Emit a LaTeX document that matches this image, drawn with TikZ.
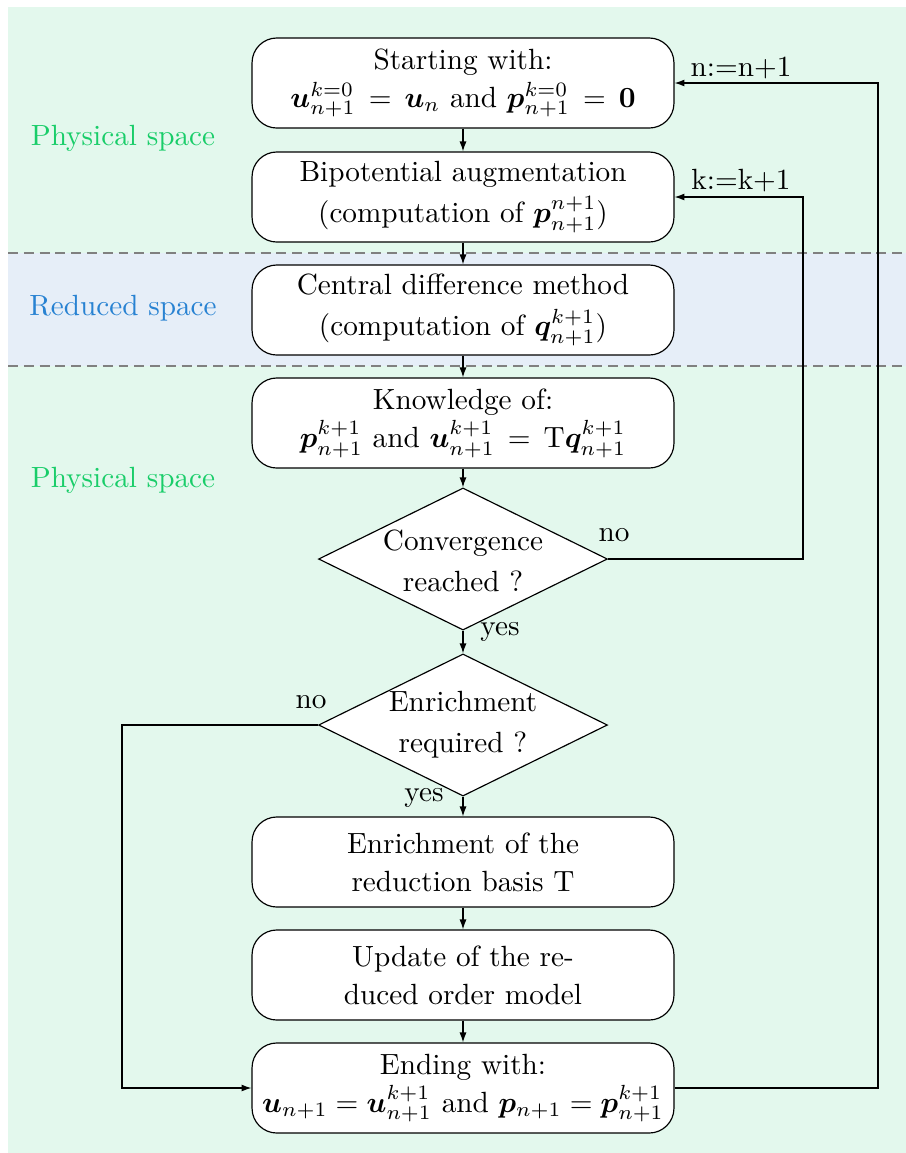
\documentclass[tikz,border=0pt]{standalone}
\usepackage{amsmath,bm}
\usetikzlibrary{arrows.meta,shapes.geometric}
\definecolor{bggreen}{RGB}{227,248,237}
\definecolor{bgblue}{RGB}{230,238,248}
\definecolor{physgreen}{RGB}{25,205,105}
\definecolor{redblue}{RGB}{40,130,210}
\begin{document}
\begin{tikzpicture}[x=0.342pt,y=-0.342pt,
  box/.style={draw, fill=white, rounded corners=8.5pt, minimum width=144.3pt, minimum height=30.8pt, align=center, inner sep=0pt},
  dia/.style={draw, fill=white, diamond, minimum width=98.8pt, minimum height=48.6pt, inner sep=0pt},
  arr/.style={-{Latex[length=3.4pt,width=2.4pt]}},
  sep/.style={draw=gray, line width=0.7pt, dash pattern=on 3.4pt off 2pt},
  lbl/.style={inner sep=0pt}]
\useasboundingbox (0,0) rectangle (906,1153);
\fill[bggreen] (8,7) rectangle (906,1153);
\fill[bgblue] (8,253) rectangle (906,366);
\draw[sep] (8,253) -- (906,253);
\draw[sep] (8,366) -- (906,366);

\node[lbl, text=physgreen] (ps1) at (123,138) {Physical space};
\node[lbl, text=redblue] (rs) at (123,308) {Reduced space};
\node[lbl, text=physgreen] (ps2) at (123,480) {Physical space};

\node[box] (b1) at (463,83) {Starting with:\\[1pt] $\bm{u}_{n+1}^{k=0}\,=\,\bm{u}_n$ and $\bm{p}_{n+1}^{k=0}\,=\,\bm{0}$};
\node[box] (b2) at (463,197) {Bipotential augmentation\\[2pt](computation of $\bm{p}_{n+1}^{n+1}$)};
\node[box] (b3) at (463,310) {Central difference method\\[2pt](computation of $\bm{q}_{n+1}^{k+1}$)};
\node[box] (b4) at (463,423) {Knowledge of:\\[1pt] $\bm{p}_{n+1}^{k+1}$ and $\bm{u}_{n+1}^{k+1}\,=\,\mathrm{T}\bm{q}_{n+1}^{k+1}$};
\node[dia] (d1) at (463,559) {};
\node[lbl, align=center] (d1t) at (463,561) {Convergence\\[2pt]reached ?};
\node[dia] (d2) at (463,725) {};
\node[lbl, align=center] (d2t) at (463,725) {Enrichment\\[2pt]required ?};
\node[box] (b5) at (463,862) {Enrichment of the\\[1pt]reduction basis T};
\node[box] (b6) at (463,975) {Update of the re-\\[1pt]duced order model};
\node[box] (b7) at (463,1088) {Ending with:\\[1pt] $\bm{u}_{n+1}=\bm{u}_{n+1}^{k+1}$ and $\bm{p}_{n+1}=\bm{p}_{n+1}^{k+1}$};

\draw[arr] (b1) -- (b2);
\draw[arr] (b2) -- (b3);
\draw[arr] (b3) -- (b4);
\draw[arr] (b4) -- (d1);
\draw[arr] (d1) -- (d2);
\draw[arr] (d2) -- (b5);
\draw[arr] (b5) -- (b6);
\draw[arr] (b6) -- (b7);

\draw[arr] (d1.east) -- (803,559) |- (b2.east);
\draw[arr] (b7.east) -- (878,1088) |- (b1.east);
\draw[arr] (d2.west) -- (122,725) |- (b7.west);

\node[lbl] (ln) at (741,68) {n:=n+1};
\node[lbl] (lk) at (741,181) {k:=k+1};
\node[lbl] (no1) at (614,535) {no};
\node[lbl] (yes1) at (500,632) {yes};
\node[lbl] (no2) at (311,702) {no};
\node[lbl] (yes2) at (424,798) {yes};
\end{tikzpicture}
\end{document}
